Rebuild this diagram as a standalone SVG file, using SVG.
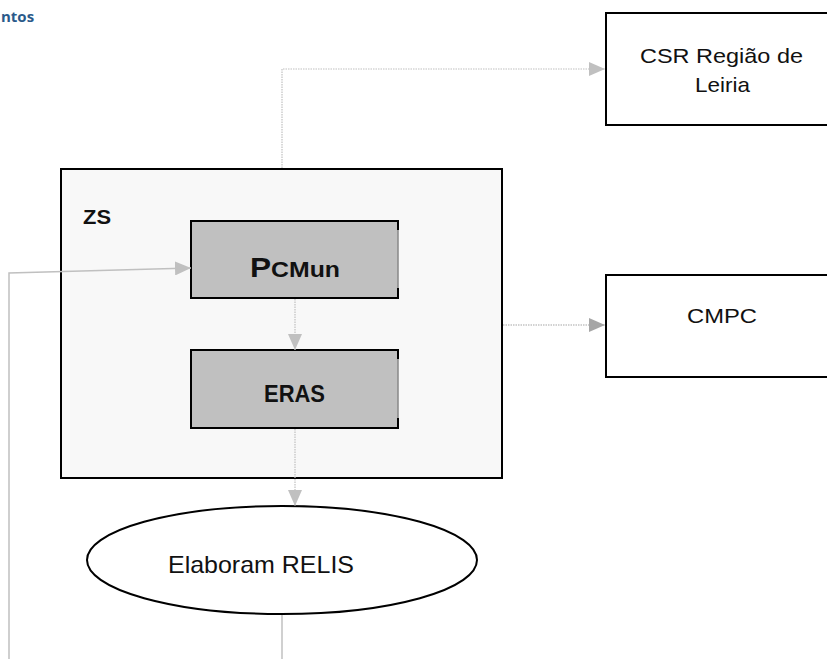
<svg xmlns="http://www.w3.org/2000/svg" width="827" height="659" viewBox="0 0 827 659">
<style>
.box{stroke:#000;stroke-width:2}
.t{font-family:"Liberation Sans",Arial,sans-serif;fill:#111}
.b{font-weight:bold}
.dot{fill:none;stroke:#c0c0c0;stroke-width:1.2;stroke-dasharray:1.5 1}
.sol{fill:none;stroke:#c0c0c0;stroke-width:1.5}
</style>
<defs>
<marker id="ah" markerUnits="userSpaceOnUse" markerWidth="16" markerHeight="14" refX="16" refY="7" orient="auto"><path d="M0,0 L16,7 L0,14 Z" fill="#c0c0c0"/></marker>
<marker id="ahd" markerUnits="userSpaceOnUse" markerWidth="16" markerHeight="14" refX="16" refY="7" orient="auto"><path d="M0,0 L16,7 L0,14 Z" fill="#a6a6a6"/></marker>
</defs>
<rect width="827" height="659" fill="#fff"/>
<text x="1" y="22" font-family="'Open Sans','Liberation Sans',sans-serif" font-weight="bold" font-size="15" fill="#2a5a8a">ntos</text>

<g id="zs">
<rect class="box" x="61" y="169" width="441" height="309" fill="#f8f8f8"/>
<text class="t b" x="83" y="224" font-size="21" textLength="28" lengthAdjust="spacingAndGlyphs">ZS</text>
</g>

<g id="pcmun">
<rect x="191" y="221" width="207" height="77" fill="#c0c0c0"/>
<path d="M398,221 H191 V298 H398" fill="none" stroke="#000" stroke-width="2"/>
<line x1="398" y1="221" x2="398" y2="298" stroke="#888" stroke-width="1.5"/>
<path d="M398,220 V230 M398,288 V299" stroke="#000" stroke-width="2"/>
<text class="t b" x="250" y="277" textLength="90" lengthAdjust="spacingAndGlyphs"><tspan font-size="28">P</tspan><tspan font-size="22">CMun</tspan></text>
</g>

<g id="eras">
<rect x="191" y="350" width="207" height="78" fill="#c0c0c0"/>
<path d="M398,350 H191 V428 H398" fill="none" stroke="#000" stroke-width="2"/>
<line x1="398" y1="350" x2="398" y2="428" stroke="#888" stroke-width="1.5"/>
<path d="M398,349 V359 M398,418 V429" stroke="#000" stroke-width="2"/>
<text class="t b" x="264" y="402" font-size="24" textLength="61" lengthAdjust="spacingAndGlyphs">ERAS</text>
</g>

<g id="csr">
<rect class="box" x="606" y="13" width="222" height="112" fill="#fff"/>
<text class="t" x="640" y="63" font-size="21" textLength="163" lengthAdjust="spacingAndGlyphs">CSR Região de</text>
<text class="t" x="695" y="92" font-size="21" textLength="55" lengthAdjust="spacingAndGlyphs">Leiria</text>
</g>

<g id="cmpc">
<rect class="box" x="606" y="275" width="222" height="102" fill="#fff"/>
<text class="t" x="687" y="323" font-size="21" textLength="70" lengthAdjust="spacingAndGlyphs">CMPC</text>
</g>

<g id="relis">
<ellipse class="box" cx="282" cy="560" rx="195" ry="54" fill="#fff"/>
<text class="t" x="168" y="573" font-size="24" textLength="186" lengthAdjust="spacingAndGlyphs">Elaboram RELIS</text>
</g>

<g id="connectors">
<path class="dot" d="M282,168 V69 H605" marker-end="url(#ah)"/>
<path class="dot" d="M503,325 H605" style="stroke:#a6a6a6" marker-end="url(#ahd)"/>
<path class="dot" d="M295,299 V350" marker-end="url(#ah)"/>
<path class="dot" d="M295,429 V506" marker-end="url(#ah)"/>
<path class="sol" d="M282,615 V659"/>
<path class="sol" d="M9,659 V273 L191,268" marker-end="url(#ah)"/>
</g>
</svg>
